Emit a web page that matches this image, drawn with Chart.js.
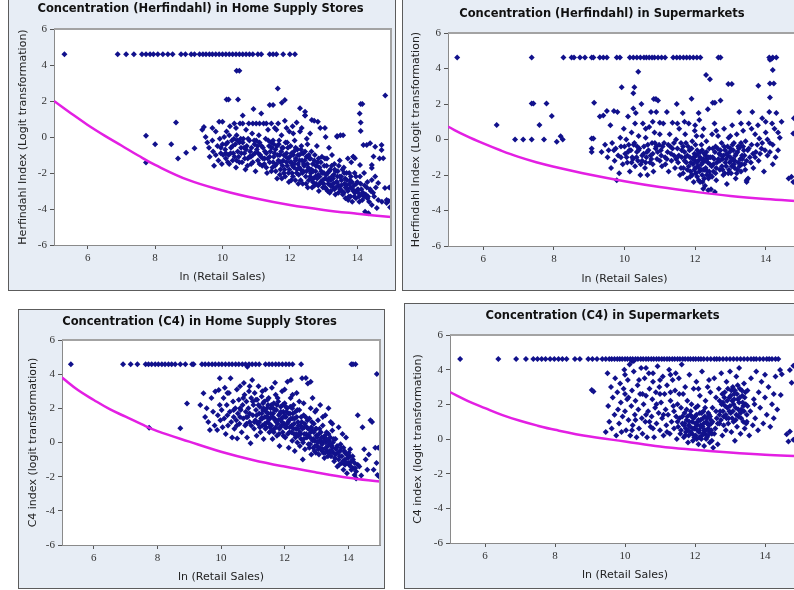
<!DOCTYPE html>
<html>
<head>
<meta charset="utf-8">
<script src="https://cdn.jsdelivr.net/npm/chart.js@4.4.1/dist/chart.umd.min.js"></script>
<style>
body { margin: 0; background: #fff; width: 794px; height: 590px; overflow: hidden; position: relative; }
.frame { position: absolute; border: 1px solid #5c5c5c; background: #e7edf5; box-sizing: border-box; }
.frame canvas { display: block; }
</style>
</head>
<body>
<div class="frame" id="f1"><canvas id="c1"></canvas></div>
<div class="frame" id="f2"><canvas id="c2"></canvas></div>
<div class="frame" id="f3"><canvas id="c3"></canvas></div>
<div class="frame" id="f4"><canvas id="c4"></canvas></div>
<script>
// ---- data ----
const xTicks = [6, 8, 10, 12, 14];
const curveX = [5, 5.5, 6, 6.5, 7, 7.5, 8, 9, 10, 11, 12, 13, 14, 15];

// Herfindahl, home supply stores
const hsHerfCapY = 4.6;
const hsHerfCapX = [5.31,6.89,7.14,7.37,7.61,7.73,7.85,7.95,8.08,8.23,8.38,8.52,8.77,8.9,9.07,9.17,9.32,9.42,9.51,9.61,9.7,9.8,9.9,10.0,10.1,10.2,10.3,10.4,10.5,10.6,10.7,10.8,10.9,11.05,11.15,11.4,11.5,11.6,11.8,12.0,12.15];
const hsHerfCurve = [2.0,1.32,0.67,0.08,-0.47,-1.03,-1.55,-2.4,-2.97,-3.42,-3.78,-4.05,-4.26,-4.45];
const hsHerfPts = [
[10.42,3.68],[10.5,3.68],[11.64,2.7],[10.12,2.09],[10.18,2.09],[10.46,2.09],[11.85,2.06],[14.83,2.3],[14.1,1.83],[14.15,1.83],[14.07,1.3],[14.1,0.8],[14.1,0.33],
[7.73,0.07],[8.0,-0.4],[8.48,-0.4],[8.62,0.8],[8.68,-1.2],[8.92,-0.87],[9.17,-0.63],[7.73,-1.41],
[11.4,1.78],[11.5,1.78],[11.76,1.9],[12.3,1.6],[12.45,1.4],[12.45,1.2],[12.65,0.94],[12.83,0.85],[13.04,0.5],[13.4,0.02],[13.5,0.1],
[14.18,-0.44],[14.28,-0.44],[14.38,-0.35],[14.53,-0.54],[14.72,-0.44],[14.72,-0.72],[14.77,-1.18],[14.48,-1.09],[14.43,-1.56],[14.43,-1.72],[14.08,-1.56],[13.88,-1.1],[13.93,-1.18],
[14.62,-2.56],[14.82,-2.83],[14.87,-3.5],[14.87,-3.67],[14.23,-4.15],[14.33,-4.24],[14.43,-2.39],[14.53,-2.2],[14.0,-2.94],[14.17,-3.1],[14.32,-3.3],[14.47,-3.1],[14.62,-3.5],[14.73,-3.6],[14.43,-3.78],[14.58,-3.95],
[14.95,-2.8],[14.93,-3.55],[14.97,-3.9],[14.66,-1.2],
[9.4,0.4],[9.45,0.55],[9.5,0],[9.55,-0.3],[9.6,-0.6],[9.62,-1.1],[9.7,-0.2],[9.72,-0.8],[9.75,-1.6],[9.8,0.3],[9.85,-0.5],[9.88,-1.3],[9.9,0.85],[9.92,-0.1],[9.95,-0.9],[9.98,-1.5],[10.0,0.85],[10.0,-0.4],
[10.05,0],[10.08,-0.7],[10.1,-1.2],[10.12,0.3],[10.15,-0.3],[10.18,-1.0],[10.2,-1.5],[10.22,0.6],[10.25,-0.6],[10.28,-0.2],[10.3,-1.3],[10.32,-0.9],[10.35,0.75],[10.38,-0.4],[10.4,-1.7],[10.42,0.1],[10.45,-0.8],[10.48,-1.1],[10.5,-0.3],[10.52,0.75],
[10.55,-0.6],[10.58,-1.4],[10.6,1.2],[10.62,-0.1],[10.65,-0.9],[10.68,-1.8],[10.7,0.4],[10.72,-0.5],[10.75,-1.2],[10.78,0.75],[10.8,-0.2],[10.82,-0.8],[10.85,-1.5],[10.88,0.2],[10.9,-1.0],[10.92,1.55],[10.95,-0.4],[10.98,-1.9],
[11.0,0.75],[11.02,-0.7],[11.05,-1.3],[11.08,0.1],[11.1,-0.3],[11.12,-1.0],[11.15,1.3],[11.18,-1.6],[11.2,-0.6],[11.22,0.75],[11.25,-1.2],[11.28,-0.1],[11.3,-0.9],[11.32,-2.0],[11.35,0.4],[11.38,-0.5],[11.4,-1.4],[11.42,-0.8],[11.45,0.75],[11.48,-1.7],
[11.5,-0.2],[11.52,-1.1],[11.55,0.5],[11.57,-0.7],[11.6,-1.5],[11.62,-2.3],[11.65,0.75],[11.67,-0.4],[11.7,-1.0],[11.72,-1.8],[11.75,0.1],[11.77,-0.6],[11.8,-1.3],[11.82,-2.0],[11.85,0.9],[11.87,-0.3],[11.9,-0.9],[11.92,-1.6],[11.95,-1.2],[11.97,-2.5],[11.98,0.3],
[12.02,-0.5],[12.04,-1.4],[12.06,-2.0],[12.08,0.6],[12.1,-1.0],[12.12,-1.7],[12.14,-0.2],[12.16,-2.4],[12.18,-1.2],[12.2,0.8],[12.22,-0.7],[12.24,-1.5],[12.26,-2.1],[12.28,-1.0],[12.3,0.3],[12.32,-1.8],[12.34,-0.5],[12.36,-1.3],[12.38,-2.6],[12.4,-0.9],[12.42,-1.6],[12.45,1.2],[12.47,-2.2],[12.49,-1.1],
[12.52,-0.4],[12.54,-1.7],[12.56,-2.4],[12.58,-1.2],[12.6,0.2],[12.62,-2.0],[12.64,-0.8],[12.66,-2.8],[12.68,-1.5],[12.7,-2.3],[12.72,0.9],[12.74,-1.0],[12.76,-1.9],[12.78,-2.6],[12.8,-0.5],[12.82,-1.4],[12.84,-2.1],[12.86,-3.0],[12.88,-1.7],[12.9,0.5],[12.92,-2.5],[12.95,-1.1],[12.98,-2.8],
[13.02,-1.6],[13.04,-2.3],[13.06,0],[13.08,-2.9],[13.1,-1.2],[13.12,-2.0],[13.14,-2.6],[13.16,-0.6],[13.18,-3.1],[13.2,-1.8],[13.22,-2.4],[13.25,-1.0],[13.28,-2.8],[13.3,-2.1],[13.32,-1.5],[13.35,-3.2],[13.38,-2.5],[13.4,0.05],[13.42,-1.9],[13.45,-2.7],[13.48,-1.3],
[13.52,-2.2],[13.55,-3.0],[13.58,0.1],[13.6,-1.7],[13.62,-2.6],[13.65,-3.4],[13.68,-2.0],[13.7,-2.9],[13.72,-1.2],[13.75,-3.3],[13.78,-2.4],[13.8,-2.8],[13.82,-1.4],[13.85,-3.6],[13.88,-1.1],[13.9,-2.7],[13.93,-3.1],[13.96,-2.2],
[14.02,-2.9],[14.05,-3.3],[14.1,-2.6],[14.15,-3.5],[14.2,-2.0],[14.25,-3.2],[14.3,-2.5]
];
const hsHerfCore = [
[10.3,-0.5],[10.36,-1.1],[10.44,-0.2],[10.5,-1.4],[10.56,-0.9],[10.6,-0.3],[10.66,-1.2],[10.7,-0.7],[10.76,-0.1],[10.8,-1.1],[10.86,-0.6],[10.9,-1.4],[10.96,-0.9],[11.0,-0.2],[11.06,-0.9],[11.1,-1.5],[11.16,-0.5],[11.2,-1.2],[11.26,-0.8],[11.3,-1.7],
[11.36,-0.2],[11.4,-1.1],[11.46,-0.6],[11.5,-1.4],[11.54,-0.9],[11.58,-1.9],[11.62,-0.5],[11.66,-1.3],[11.7,-2.1],[11.74,-0.8],[11.78,-1.6],[11.82,-1.0],[11.86,-2.2],[11.9,-1.4],[11.94,-0.6],[11.98,-1.8],[12.0,-1.1],[12.04,-2.4],[12.08,-1.6],[12.12,-0.8],
[12.16,-1.3],[12.2,-2.0],[12.24,-1.0],[12.28,-1.7],[12.32,-2.4],[12.36,-0.9],[12.4,-1.9],[12.44,-1.3],[12.48,-2.6],[12.52,-1.5],[12.56,-1.0],[12.6,-2.2],[12.64,-1.8],[12.68,-2.5],[12.72,-1.3],[12.76,-2.2],[12.8,-1.6],[12.84,-2.7],[12.88,-2.2],[12.92,-1.4],
[12.96,-2.0],[13.0,-2.6],[13.04,-1.2],[13.08,-2.1],[13.12,-3.0],[13.16,-2.3],[13.2,-2.7],[13.24,-1.6],[13.28,-2.3],[13.32,-2.9],[13.36,-1.9],[13.4,-2.5],[13.44,-3.1],[13.48,-2.2],[13.52,-2.7],[13.56,-1.8],[13.6,-3.1],[13.64,-2.3],[13.68,-2.7],[13.72,-3.0],
[13.76,-2.0],[13.8,-3.3],[13.84,-2.5],[13.88,-3.0],[13.92,-2.0],[13.96,-3.4],[14.0,-2.5],[14.06,-3.6],[14.12,-2.9],[14.2,-3.3],[14.28,-2.8],[14.35,-3.6],[14.4,-3.0],[14.5,-3.3],[14.55,-2.8],
[10.6,0.75],[10.9,0.75],[11.1,0.75],[11.3,0.75],[11.6,0.4],[11.9,0.5],[12.1,0.2],[12.5,-0.1],[12.35,0.5],[10.4,0.5],[10.2,0.1],[9.7,0.5],[9.8,-1.0],[10.1,-0.9],[9.95,-0.6],
[11.45,-1.9],[11.52,-0.4],[11.56,-1.6],[11.64,-1.0],[11.68,-0.2],[11.72,-1.4],[11.76,-2.3],[11.8,-0.6],[11.84,-1.8],[11.88,-1.1],[11.92,-0.3],[11.96,-2.0],[12.01,-1.4],[12.05,-0.9],[12.09,-2.2],[12.13,-1.5],[12.17,-0.6],[12.21,-1.8],[12.25,-2.6],[12.29,-1.3],
[12.33,-0.7],[12.37,-2.0],[12.41,-1.5],[12.45,-0.8],[12.49,-1.9],[12.53,-2.8],[12.57,-1.8],[12.61,-1.2],[12.65,-2.3],[12.69,-1.9],[12.73,-2.7],[12.77,-1.6],[12.81,-2.3],[12.85,-1.2],[12.89,-2.6],[12.93,-1.9],[12.97,-2.4],[13.01,-2.0],[13.05,-2.8],[13.09,-1.6],
[13.13,-2.4],[13.17,-1.9],[13.21,-3.0],[13.25,-2.2],[13.29,-2.6],[13.33,-1.8],[13.37,-2.8],[13.41,-2.2],[13.45,-1.6],[13.49,-2.9],[13.53,-2.4],[13.57,-3.2],[13.61,-2.0],[13.65,-2.8],[13.69,-2.4],[13.73,-3.5],[13.77,-2.6],[13.81,-2.2],[13.86,-2.9],[13.91,-3.3],
[13.97,-2.6],[14.03,-3.1],[14.08,-2.2],[14.14,-3.2],[14.22,-2.7],[14.3,-3.4],[14.38,-2.9],
[10.02,-1.0],[10.1,-0.4],[10.16,-1.4],[10.24,-0.9],[10.34,-0.1],[10.42,-1.3],[10.54,-0.1],[10.64,-0.6],[10.74,-1.6],[10.84,-1.1],[10.94,-0.2],[11.04,-0.5],[11.14,-1.1],[11.24,-1.5],[11.34,-1.2],[11.44,-0.3]
];

// Herfindahl, supermarkets
const smHerfCapY = 4.62;
const smHerfCapX = [5.26,7.37,8.27,8.5,8.57,8.74,8.88,9.07,9.12,9.3,9.4,9.5,9.78,9.87,10.15,10.25,10.35,10.45,10.55,10.62,10.7,10.78,10.85,10.95,11.05,11.15,11.38,11.48,11.57,11.67,11.76,11.85,11.95,12.05,12.15,12.66,12.72,14.1,14.2,14.3];
const smHerfCurve = [0.72,0.22,-0.22,-0.62,-0.98,-1.28,-1.53,-1.97,-2.35,-2.68,-2.95,-3.18,-3.35,-3.48];
const smHerfPts = [
[7.37,2.03],[7.42,2.03],[7.37,0],[6.9,0],[7.13,0],[7.72,0],[6.38,0.81],[7.59,0.81],[7.79,2.03],[7.94,1.32],[8.08,-0.13],[8.19,0.19],[8.25,0],
[9.14,2.07],[9.07,0.06],[9.12,0.06],[9.07,-0.5],[9.07,-0.7],[9.92,2.94],[10.28,2.94],[10.39,3.82],[10.25,2.6],[10.83,2.28],[10.89,2.28],
[12.31,3.63],[12.42,3.39],[12.94,3.13],[13.04,3.13],[13.79,3.03],[14.2,3.92],[14.12,3.16],[14.23,3.16],[14.12,2.37],[12.5,2.07],[12.56,2.07],
[14.73,-2.1],[14.65,-2.2],[14.78,-2.4],[14.78,0.34],[14.8,1.2],[9.78,-2.3],[14.12,4.5],[14.17,4.55],[13.46,-2.4],[13.5,-2.2],[12.23,-2.77],[12.37,-2.86],[12.56,-2.96],
[9.3,1.3],[9.35,-0.7],[9.4,1.35],[9.45,-0.3],[9.5,1.6],[9.52,-1.0],[9.55,-0.6],[9.6,0.8],[9.62,-1.6],[9.65,-0.2],[9.7,1.6],[9.72,-1.2],[9.75,-0.5],[9.8,1.55],[9.82,-0.9],[9.85,-1.9],[9.88,0.1],[9.9,-0.4],[9.95,-1.4],[9.98,0.6],
[10.02,-0.8],[10.05,0],[10.08,-1.3],[10.1,1.3],[10.12,-0.3],[10.15,-1.8],[10.18,-0.6],[10.2,0.4],[10.22,-1.0],[10.25,1.75],[10.28,-0.2],[10.3,-1.5],[10.32,1.5],[10.35,-0.7],[10.38,-1.2],[10.4,0.2],[10.42,-0.5],[10.45,-2.0],[10.48,2.0],[10.5,-0.9],
[10.52,0.9],[10.55,-0.4],[10.58,-1.6],[10.6,0.1],[10.62,-1.0],[10.65,-2.0],[10.68,-0.6],[10.7,0.7],[10.72,-1.3],[10.75,1.55],[10.78,-0.2],[10.8,-0.8],[10.82,-1.8],[10.85,0.4],[10.88,-0.5],[10.9,1.55],[10.92,-1.1],[10.95,2.2],[10.98,-0.3],
[11.0,0.95],[11.03,-0.6],[11.06,-1.5],[11.1,0.9],[11.12,-0.2],[11.15,-1.0],[11.2,1.55],[11.22,-0.7],[11.25,-1.8],[11.28,0.3],[11.3,-0.4],[11.33,-1.2],[11.36,0.95],[11.4,-0.9],[11.43,-1.6],[11.46,0],[11.48,2.0],
[11.5,-0.5],[11.52,-1.3],[11.55,0.6],[11.57,-2.0],[11.6,-0.2],[11.62,-1.0],[11.65,1.5],[11.67,-1.6],[11.7,-0.7],[11.72,0.3],[11.75,-1.3],[11.77,-2.2],[11.8,-0.4],[11.82,0.9],[11.85,-1.0],[11.87,-1.8],[11.9,2.3],[11.92,-0.1],[11.94,-1.4],[11.96,-2.4],[11.98,-0.8],[11.99,0.5],
[12.0,-1.2],[12.02,-1.9],[12.04,0.2],[12.06,-0.6],[12.08,-1.5],[12.1,-2.3],[12.12,1.1],[12.14,-1.0],[12.16,-1.7],[12.18,-0.3],[12.2,-2.0],[12.22,-1.3],[12.24,0.6],[12.26,-0.8],[12.28,-2.6],[12.3,-1.6],[12.32,-0.1],[12.34,-1.1],[12.36,1.7],[12.38,-2.2],[12.4,-0.5],[12.42,-1.4],[12.45,-2.8],[12.48,0.3],
[12.5,-1.0],[12.52,-1.8],[12.55,0.9],[12.58,-0.4],[12.6,-2.3],[12.62,-1.3],[12.65,0.2],[12.68,-0.8],[12.7,-1.7],[12.72,2.2],[12.75,-0.2],[12.78,-1.1],[12.8,-2.0],[12.82,0.6],[12.85,-0.6],[12.88,-1.5],[12.9,-2.5],[12.92,-0.9],[12.95,0.1],[12.98,-1.3],
[13.0,-0.5],[13.02,-1.9],[13.05,0.8],[13.08,-1.1],[13.1,-0.2],[13.12,-1.6],[13.15,-2.2],[13.18,0.3],[13.2,-0.7],[13.22,-1.3],[13.25,1.55],[13.28,-0.4],[13.3,-1.8],[13.33,-0.9],[13.36,0.5],[13.4,-1.4],[13.43,-0.1],[13.46,-2.3],[13.49,-0.6],
[13.52,0.9],[13.55,-1.0],[13.6,-0.3],[13.62,1.55],[13.65,-1.6],[13.7,0.3],[13.72,-0.7],[13.78,0.8],[13.8,-1.2],[13.82,0.05],[13.88,-0.5],[13.9,1.2],[13.95,-1.8],[14.0,0.4],[14.05,-0.9],[14.1,1.55],[14.12,-0.2],[14.18,0.9],[14.2,-1.4],[14.25,0.6],[14.3,1.5],[14.35,-0.6],[14.4,0.1],[14.45,1.0]
];
const smHerfCore = [
[10.0,-0.4],[10.06,-1.0],[10.14,-0.6],[10.2,-1.3],[10.26,-0.3],[10.34,-1.0],[10.4,-0.6],[10.46,-1.4],[10.54,-0.8],[10.6,-1.3],[10.66,-0.3],[10.74,-0.9],[10.8,-1.4],[10.86,-0.2],[10.94,-0.7],[11.0,-1.2],[11.08,-0.4],[11.16,-1.4],[11.24,-0.3],[11.32,-0.8],
[11.4,-0.2],[11.46,-1.1],[11.54,-0.9],[11.6,-1.6],[11.66,-0.4],[11.72,-1.0],[11.78,-1.7],[11.84,-0.6],[11.88,-1.3],[11.92,-2.0],[11.96,-1.0],[12.0,-1.6],[12.03,-0.9],[12.06,-2.1],[12.09,-1.2],[12.12,-1.8],[12.15,-0.7],[12.18,-1.4],[12.21,-2.4],[12.24,-1.1],
[12.27,-1.7],[12.3,-0.9],[12.33,-2.0],[12.36,-1.3],[12.4,-1.8],[12.44,-1.0],[12.48,-2.1],[12.52,-1.4],[12.56,-0.7],[12.6,-1.6],[12.66,-1.1],[12.72,-0.6],[12.76,-1.5],[12.8,-0.9],[12.84,-1.9],[12.88,-1.1],[12.92,-0.4],[12.96,-1.7],[13.0,-1.0],[13.04,-1.5],
[13.08,-0.6],[13.12,-1.2],[13.16,-0.8],[13.2,-1.7],[13.24,-0.5],[13.28,-1.1],[13.32,-1.4],[13.36,-0.4],[13.4,-0.9],[13.46,-1.2],[13.52,-0.5],[13.58,-1.3],[13.64,-0.8],[13.7,-1.0],[13.76,-0.3],[13.84,-0.8],[13.9,-0.2],[13.98,-0.6],[14.05,0.0],[14.12,-0.7],
[14.2,-0.3],[14.28,-1.0],[14.35,0.4],
[10.3,0.9],[10.6,0.6],[11.0,0.3],[11.5,0.9],[12.0,0.8],[12.2,0.2],[12.6,0.5],[13.0,0.2],[13.3,0.9],[13.6,0.6],[14.0,1.0],[12.1,1.5],[11.7,1.0],[10.8,1.0],
[11.62,-0.6],[11.66,-1.9],[11.7,-1.2],[11.74,-0.2],[11.78,-0.9],[11.82,-1.5],[11.86,-2.1],[11.9,-0.5],[11.94,-1.1],[11.98,-1.7],[12.01,-0.3],[12.05,-1.3],[12.08,-0.8],[12.11,-1.6],[12.14,-2.4],[12.17,-1.1],[12.2,-0.6],[12.23,-1.7],[12.26,-2.2],[12.29,-1.2],
[12.32,-0.7],[12.35,-1.8],[12.39,-1.0],[12.43,-2.0],[12.47,-1.5],[12.5,-0.5],[12.54,-1.1],[12.58,-1.9],[12.64,-0.5],[12.7,-1.2],[12.74,-0.9],[12.78,-1.7],[12.82,-0.4],[12.86,-1.3],[12.9,-0.8],[12.94,-1.9],[12.98,-0.7],[13.02,-1.2],[13.06,-0.3],[13.1,-1.4],
[13.14,-0.9],[13.18,-1.9],[13.22,-0.4],[13.26,-1.5],[13.3,-0.2],[13.34,-1.1],[13.38,-0.6],[13.42,-1.7],[10.1,-0.7],[10.24,-1.1],[10.36,-0.4],[10.5,-1.2],[10.64,-0.7],[10.76,-1.1],[10.9,-0.4],[11.04,-0.9],[11.2,-1.1],[11.36,-0.5],[11.5,-1.0],[9.7,-0.6],[9.9,-1.0]
];

// C4, home supply stores
const hsC4CapY = 4.58;
const hsC4CapX = [5.28,6.92,7.16,7.37,7.63,7.72,7.82,7.93,8.03,8.14,8.24,8.35,8.45,8.56,8.72,8.88,9.09,9.14,9.4,9.5,9.61,9.72,9.82,9.93,10.03,10.14,10.25,10.35,10.46,10.56,10.67,10.77,10.88,10.98,11.09,11.2,11.4,11.51,11.61,11.72,11.82,11.93,12.04,12.14,12.25,12.52,14.1,14.15,14.23];
const hsC4Curve = [3.8,3.07,2.49,1.95,1.51,1.07,0.67,0.05,-0.54,-1.02,-1.41,-1.75,-2.06,-2.29];
const hsC4Pts = [
[10.83,4.44],[8.93,2.29],[7.74,0.87],[8.72,0.83],[14.9,4.01],[9.96,3.76],[12.73,3.46],[12.82,3.56],
[9.35,2.19],[9.45,2.88],[9.5,1.5],[9.55,2.0],[9.6,1.2],[9.65,0.73],[9.7,2.6],[9.75,1.8],[9.8,1.0],[9.82,2.98],[9.88,0.73],[9.9,1.6],[9.93,3.07],[9.96,2.2],[9.98,1.3],
[10.02,1.9],[10.05,0.9],[10.08,2.6],[10.1,1.4],[10.12,3.2],[10.15,0.5],[10.18,2.2],[10.2,1.6],[10.22,1.0],[10.25,2.9],[10.28,1.8],[10.3,3.76],[10.32,1.2],[10.35,0.3],[10.38,2.4],[10.4,1.5],[10.42,0.8],[10.45,2.0],[10.48,1.3],[10.5,3.1],
[10.51,0.24],[10.53,1.7],[10.56,2.5],[10.58,1.1],[10.6,3.3],[10.62,1.9],[10.65,0.6],[10.68,2.2],[10.7,1.4],[10.72,3.48],[10.74,2.8],[10.76,1.0],[10.78,1.8],[10.8,2.4],[10.82,0.3],[10.84,1.5],[10.86,2.0],[10.88,3.0],[10.9,1.2],[10.93,-0.05],[10.95,2.6],[10.98,3.66],
[11.0,1.6],[11.02,2.2],[11.04,0.8],[11.06,2.9],[11.08,1.3],[11.1,1.9],[11.12,0.4],[11.14,2.5],[11.16,1.1],[11.18,3.3],[11.2,1.7],[11.22,2.1],[11.24,0.6],[11.26,1.4],[11.28,2.7],[11.3,1.0],[11.32,1.9],[11.34,0.2],[11.36,2.4],[11.38,1.5],[11.4,3.1],[11.42,0.9],[11.44,2.0],[11.46,1.2],[11.48,1.7],
[11.5,2.6],[11.52,0.6],[11.54,1.4],[11.56,2.0],[11.58,1.0],[11.6,3.2],[11.62,0.2],[11.64,1.7],[11.66,2.3],[11.68,0.8],[11.7,1.3],[11.72,2.8],[11.74,1.9],[11.76,0.4],[11.78,1.1],[11.8,2.4],[11.82,1.6],[11.84,-0.2],[11.86,0.9],[11.88,2.1],[11.9,1.4],[11.92,3.0],[11.94,0.6],[11.96,1.8],[11.98,1.1],
[12.0,2.3],[12.02,0.3],[12.04,1.5],[12.06,0.9],[12.08,2.0],[12.09,3.56],[12.11,1.2],[12.13,-0.3],[12.15,0.6],[12.17,1.7],[12.19,2.6],[12.2,3.66],[12.22,1.0],[12.24,0.1],[12.26,1.4],[12.28,2.2],[12.3,0.5],[12.32,-0.5],[12.34,1.8],[12.36,0.8],[12.38,2.9],[12.4,0.0],[12.42,1.2],[12.44,0.4],[12.46,2.4],[12.48,-0.2],
[12.5,1.0],[12.52,0.2],[12.55,3.76],[12.57,-1.0],[12.6,1.6],[12.62,0.5],[12.64,-0.4],[12.67,3.77],[12.7,0.9],[12.75,-0.1],[12.78,1.4],[12.8,0.3],[12.82,2.0],[12.84,-0.7],[12.86,0.7],[12.88,2.6],[12.9,-0.3],[12.92,1.1],[12.94,0.1],[12.96,1.8],[12.98,-0.6],
[13.0,0.4],[13.02,-0.2],[13.05,1.3],[13.08,-0.7],[13.1,0.8],[13.12,2.2],[13.15,0.0],[13.18,-0.5],[13.2,1.0],[13.22,0.3],[13.25,-0.9],[13.28,1.6],[13.3,-0.3],[13.32,0.6],[13.36,-0.8],[13.38,2.0],[13.4,0.1],[13.42,-0.5],[13.45,1.2],[13.48,-0.2],
[13.5,0.7],[13.53,-0.6],[13.56,-1.1],[13.6,0.2],[13.63,-0.3],[13.66,-1.4],[13.7,0.9],[13.73,-0.8],[13.76,-0.1],[13.8,-1.2],[13.82,0.5],[13.85,-1.6],[13.88,-0.5],[13.9,-1.0],[13.93,0.3],[13.96,-1.8],[14.0,-0.9],[14.03,-1.3],[14.06,-0.4],[14.1,-1.6],[14.15,-1.0],[14.2,-1.9],
[14.25,-2.1],[14.3,1.6],[14.35,-1.4],[14.41,-1.93],[14.45,0.9],[14.5,-0.4],[14.55,-1.0],[14.6,-1.6],[14.65,-0.7],[14.7,1.3],[14.75,1.2],[14.8,-1.6],[14.85,-0.3],[14.89,-1.2],[14.92,-1.9],[14.95,-0.3],[14.98,-2.0]
];
const hsC4Core = [
[10.4,1.9],[10.5,1.0],[10.6,1.5],[10.7,2.6],[10.8,1.1],[10.9,1.7],[11.0,2.4],[11.05,1.2],[11.12,1.6],[11.18,2.2],[11.22,0.9],[11.28,1.7],[11.32,2.3],[11.38,1.1],[11.42,1.8],[11.46,2.5],[11.5,1.4],[11.54,0.9],[11.58,2.2],[11.62,1.5],
[11.66,0.6],[11.7,1.9],[11.74,1.2],[11.78,2.6],[11.82,0.5],[11.86,1.7],[11.9,1.0],[11.94,2.2],[11.98,1.5],[12.02,0.9],[12.06,1.8],[12.1,0.5],[12.14,1.3],[12.18,2.1],[12.22,0.6],[12.26,1.7],[12.3,1.1],[12.34,0.3],[12.38,1.5],[12.42,0.8],
[12.46,1.9],[12.5,0.5],[12.54,1.2],[12.58,0.0],[12.62,0.9],[12.66,1.5],[12.7,0.3],[12.74,0.8],[12.78,-0.3],[12.82,0.6],[12.86,1.2],[12.9,0.2],[12.94,-0.5],[12.98,0.8],[13.02,0.3],[13.06,-0.4],[13.1,0.1],[13.14,0.6],[13.18,-0.1],[13.22,-0.6],
[13.26,0.4],[13.3,0.0],[13.34,-0.5],[13.38,0.5],[13.42,-0.1],[13.46,-0.8],[13.5,-0.3],[13.55,0.2],[13.6,-0.7],[13.65,-0.2],[13.7,-1.0],[13.75,-0.5],[13.8,-0.8],[13.85,-0.3],[13.9,-1.3],[13.95,-0.7],[14.0,-1.2],[14.05,-0.8],[14.1,-1.1],[14.15,-1.5],
[14.2,-1.2],[14.25,-1.7],[14.3,-1.3],
[10.2,2.9],[10.9,3.3],[11.3,3.0],[11.7,3.5],[12.0,3.1],[12.25,2.8],[12.6,2.3],[13.0,1.9],[13.2,1.5],[13.5,1.1],
[11.3,1.4],[11.34,2.0],[11.4,0.8],[11.44,1.5],[11.48,2.2],[11.52,1.1],[11.56,1.7],[11.6,0.7],[11.64,2.0],[11.68,1.4],[11.72,0.9],[11.76,2.2],[11.8,1.3],[11.84,0.8],[11.88,1.8],[11.92,1.2],[11.96,0.4],[12.0,1.6],[12.04,2.1],[12.08,1.1],
[12.12,1.7],[12.16,0.9],[12.2,1.4],[12.24,2.0],[12.28,0.8],[12.32,1.4],[12.36,0.5],[12.4,1.9],[12.44,1.0],[12.48,0.6],[12.52,1.5],[12.56,0.8],[12.6,0.2],[12.64,1.1],[12.68,0.5],[12.72,1.3],[12.76,0.4],[12.8,-0.1],[12.84,0.9],[12.88,0.1],
[12.92,0.6],[12.96,-0.2],[13.0,0.8],[13.04,0.0],[13.08,0.5],[13.12,-0.3],[13.16,0.3],[13.2,-0.4],[13.24,0.1],[13.28,-0.6],[13.32,0.2],[13.36,-0.2],[13.4,-0.6],[13.44,0.3],[13.48,-0.5],[13.52,0.0],[13.58,-0.9],[13.62,-0.4],[13.68,-0.6],[13.72,-1.3],
[13.78,-0.3],[13.84,-1.1],[13.9,-0.6],[13.96,-1.2],[14.02,-0.6],[14.08,-1.4],[14.14,-0.8],[14.22,-1.5],[10.6,2.0],[10.8,1.5],[10.95,1.0],[11.1,2.5],[11.2,1.2]
];

// C4, supermarkets
const smC4CapY = 4.62;
const smC4CapX = [5.29,6.38,6.89,7.17,7.38,7.5,7.62,7.73,7.86,7.98,8.1,8.21,8.33,8.57,8.71,8.95,9.07,9.2,9.35,9.45,9.55,9.62,9.7,9.78,9.85,9.92,10.0,10.07,10.15,10.22,10.3,10.37,10.45,10.52,10.6,10.67,10.75,10.82,10.9,10.97,11.05,11.12,11.2,11.27,11.35,11.42,11.5,11.57,11.65,11.72,11.8,11.87,11.95,12.02,12.1,12.17,12.25,12.35,12.45,12.55,12.62,12.7,12.8,12.9,13.0,13.1,13.2,13.3,13.4,13.5,13.6,13.68,13.75,13.85,13.95,14.05,14.12,14.2,14.3,14.38];
const smC4Curve = [2.7,2.2,1.78,1.38,1.05,0.77,0.53,0.14,-0.14,-0.43,-0.62,-0.78,-0.91,-1.0];
const smC4Pts = [
[10.2,4.48],[10.25,4.5],[14.43,3.98],[14.48,3.73],[14.45,2.54],[14.62,0.28],[14.67,-0.14],[14.71,0.43],[14.81,-0.05],[14.81,4.23],[14.71,3.98],[14.76,3.25],[9.05,2.83],[9.1,2.74],
[9.45,0.4],[9.5,3.8],[9.52,1.9],[9.55,1.0],[9.6,3.0],[9.62,0.6],[9.65,2.4],[9.7,1.4],[9.72,3.5],[9.75,0.2],[9.78,2.7],[9.8,1.7],[9.83,0.9],[9.86,3.2],[9.88,2.1],[9.9,0.4],[9.93,1.3],[9.96,2.9],[9.98,4.0],
[10.0,1.6],[10.03,0.5],[10.06,2.3],[10.08,3.4],[10.1,1.1],[10.13,4.3],[10.15,0.2],[10.18,1.9],[10.2,2.8],[10.22,0.8],[10.25,3.9],[10.28,1.4],[10.3,2.2],[10.33,0.1],[10.36,3.1],[10.38,1.7],[10.4,0.6],[10.43,2.6],[10.46,4.1],[10.48,1.2],
[10.5,0.3],[10.53,2.0],[10.56,3.5],[10.58,1.0],[10.6,2.5],[10.63,0.1],[10.66,1.6],[10.68,3.8],[10.7,2.9],[10.73,0.7],[10.76,1.3],[10.78,2.3],[10.8,3.3],[10.83,0.1],[10.86,1.8],[10.88,2.7],[10.9,0.9],[10.93,4.2],[10.96,1.5],[10.98,3.0],
[11.0,0.5],[11.03,2.1],[11.06,1.2],[11.08,3.6],[11.1,0.2],[11.13,2.6],[11.16,1.7],[11.18,0.8],[11.2,3.1],[11.23,1.4],[11.26,4.0],[11.28,0.3],[11.3,2.2],[11.33,1.0],[11.36,3.4],[11.38,1.9],[11.4,0.6],[11.43,2.8],[11.46,1.3],[11.48,0.0],
[11.5,2.0],[11.52,0.7],[11.54,3.5],[11.56,1.2],[11.58,0.3],[11.6,1.8],[11.62,4.3],[11.64,0.9],[11.66,2.6],[11.68,0.1],[11.7,1.5],[11.72,3.0],[11.74,0.6],[11.76,1.1],[11.78,2.2],[11.8,-0.2],[11.82,0.8],[11.84,3.7],[11.86,1.4],[11.88,0.4],[11.9,2.0],[11.92,1.0],[11.94,-0.1],[11.96,2.9],[11.98,0.6],
[12.0,1.3],[12.02,0.2],[12.04,3.3],[12.06,0.8],[12.08,1.9],[12.1,-0.3],[12.12,0.5],[12.14,2.5],[12.16,1.1],[12.18,0.0],[12.2,3.9],[12.22,0.7],[12.24,1.6],[12.26,-0.4],[12.28,0.3],[12.3,2.2],[12.32,1.0],[12.34,0.1],[12.36,3.0],[12.38,0.6],[12.4,1.4],[12.42,-0.2],[12.44,2.7],[12.46,0.9],[12.48,0.3],
[12.5,1.8],[12.52,-0.5],[12.55,3.5],[12.58,0.6],[12.6,2.4],[12.62,1.2],[12.65,-0.3],[12.68,2.9],[12.7,0.9],[12.72,1.6],[12.75,3.8],[12.78,0.2],[12.8,2.1],[12.82,1.3],[12.85,2.7],[12.88,0.5],[12.9,3.3],[12.92,1.8],[12.95,0.9],[12.98,2.4],
[13.0,3.9],[13.02,1.5],[13.04,0.4],[13.06,2.2],[13.08,3.0],[13.1,1.0],[13.12,2.6],[13.14,-0.1],[13.16,1.8],[13.18,3.6],[13.2,0.7],[13.22,2.3],[13.24,1.3],[13.26,4.1],[13.28,2.9],[13.3,0.3],[13.32,1.7],[13.35,2.5],[13.38,1.0],[13.4,3.2],[13.42,0.6],[13.45,2.0],[13.48,1.4],
[13.5,2.8],[13.55,0.2],[13.58,1.6],[13.6,3.5],[13.65,0.8],[13.68,2.3],[13.72,1.2],[13.75,3.9],[13.8,0.5],[13.82,2.7],[13.86,1.8],[13.9,3.3],[13.95,0.9],[14.0,2.4],[14.05,1.4],[14.1,3.0],[14.15,0.7],[14.2,2.0],[14.25,1.2],[14.3,3.6],[14.35,1.7]
];
const smC4Core = [
[11.6,0.5],[11.64,1.3],[11.68,0.8],[11.72,0.2],[11.76,1.7],[11.8,0.5],[11.84,1.0],[11.88,1.6],[11.92,0.3],[11.96,1.2],[12.0,0.6],[12.02,1.8],[12.05,0.0],[12.08,1.0],[12.11,0.4],[12.14,1.5],[12.17,0.7],[12.2,0.2],[12.23,1.2],[12.26,0.5],
[12.29,1.8],[12.32,0.0],[12.35,0.9],[12.38,1.5],[12.41,0.4],[12.45,1.1],[12.48,-0.1],[12.6,1.6],[12.65,0.9],[12.7,2.2],[12.74,1.1],[12.78,2.6],[12.82,0.8],[12.86,1.9],[12.9,1.2],[12.94,2.9],[12.98,1.6],[13.02,2.5],[13.06,1.2],[13.1,2.0],
[13.14,2.8],[13.18,1.4],[13.22,3.1],[13.26,2.1],[13.3,1.5],[13.34,2.8],[13.38,1.9],[13.42,2.4],[13.46,0.9],[13.5,1.9],
[10.1,2.4],[10.3,1.1],[10.5,2.6],[10.7,1.0],[10.9,2.0],[11.1,1.4],[11.3,2.7],[11.5,1.0],[11.45,3.8],[11.0,3.4],[10.6,4.1],[12.1,2.9],[12.4,3.4],[13.7,2.0],[14.0,3.7],[14.25,2.6],
[11.7,0.9],[11.74,0.4],[11.78,1.3],[11.82,0.2],[11.86,0.7],[11.9,1.3],[11.94,0.6],[11.98,0.1],[12.01,0.9],[12.04,1.4],[12.07,0.5],[12.1,1.1],[12.13,0.1],[12.16,0.8],[12.19,1.5],[12.22,0.3],[12.25,0.9],[12.28,1.3],[12.31,0.5],[12.34,1.2],
[12.37,0.2],[12.4,0.8],[12.43,1.3],[12.46,0.5],[12.5,1.0],[12.55,0.3],[12.7,1.4],[12.76,2.0],[12.8,1.6],[12.84,2.4],[12.88,1.4],[12.92,2.2],[12.96,1.2],[13.0,1.9],[13.04,2.8],[13.08,1.6],[13.12,2.3],[13.16,1.1],[13.2,2.6],[13.24,1.7],
[13.28,2.4],[13.32,1.2],[13.36,2.1],[13.4,1.6],[13.44,2.7],[13.48,1.0],[10.0,2.6],[10.2,0.5],[10.4,3.4],[10.6,1.4],[10.8,0.6],[11.0,2.6],[11.2,0.4],[11.4,1.6],[11.55,2.6],[11.3,3.7],[10.8,3.8],[10.0,3.7]
];

// ---- drawing ----
const pointColor = '#11118c';
const curveColor = '#e31fe3';

const plotFrame = {
  id: 'plotFrame',
  beforeDraw(chart) {
    const a = chart.chartArea, c = chart.ctx;
    c.save();
    c.fillStyle = '#ffffff';
    c.fillRect(a.left, a.top, a.right - a.left, a.bottom - a.top);
    c.restore();
  },
  afterDraw(chart) {
    const a = chart.chartArea, c = chart.ctx;
    c.save();
    c.strokeStyle = '#a3a3a3';
    c.lineWidth = 2;
    c.beginPath();
    c.moveTo(a.left, a.top);
    c.lineTo(a.right, a.top);
    c.lineTo(a.right, a.bottom);
    c.stroke();
    c.restore();
  }
};

function makePanel(p) {
  const fr = document.getElementById(p.frameId);
  fr.style.left = p.frame[0] + 'px';
  fr.style.top = p.frame[1] + 'px';
  fr.style.width = p.frame[2] + 'px';
  fr.style.height = p.frame[3] + 'px';
  const cx = p.frame[0] + 1, cy = p.frame[1] + 1;
  const cw = p.frame[2] - 2, ch = p.frame[3] - 2;
  const canvas = document.getElementById(p.canvasId);
  canvas.width = cw; canvas.height = ch;
  canvas.style.width = cw + 'px'; canvas.style.height = ch + 'px';

  const TLH = 14, ALH = 13;
  const titlePadTop = (p.titleY - cy) - TLH / 2;
  const titlePadBottom = (p.plot.t - cy) - titlePadTop - TLH;
  const yAxisW = p.plot.l - cx;
  const xAxisH = (cy + ch) - p.plot.b;
  const padRight = (cx + cw) - p.plot.r;
  const marker = { pointStyle: 'rectRot', pointRadius: 3, backgroundColor: pointColor, borderWidth: 0 };

  new Chart(canvas, {
    type: 'scatter',
    data: {
      datasets: [
        {
          data: curveX.map((x, i) => ({ x: x, y: p.curve[i] })),
          showLine: true, pointRadius: 0, borderColor: curveColor, borderWidth: 2.5, tension: 0.4
        },
        Object.assign({ data: p.capX.map(x => ({ x: x, y: p.capY })) }, marker),
        Object.assign({ data: p.pts.map(d => ({ x: d[0], y: d[1] })) }, marker)
      ]
    },
    options: {
      responsive: false,
      animation: false,
      devicePixelRatio: 1,
      layout: { padding: { left: 0, top: 0, right: padRight, bottom: 0 } },
      plugins: {
        legend: { display: false },
        tooltip: { enabled: false },
        title: {
          display: true, text: p.title, color: '#111',
          font: { family: 'DejaVu Sans', weight: 'bold', size: 11.5, lineHeight: TLH / 11.5 },
          padding: { top: titlePadTop, bottom: titlePadBottom }
        }
      },
      scales: {
        x: {
          type: 'linear', min: 5, max: 15,
          afterBuildTicks: s => { s.ticks = xTicks.map(v => ({ value: v })); },
          afterFit: s => { s.height = xAxisH; },
          grid: { drawOnChartArea: false, drawTicks: true, tickLength: 4, color: '#555' },
          border: { color: '#8a8a8a', width: 1 },
          ticks: { color: '#333', padding: 3, font: { family: 'Liberation Serif', size: 11 } },
          title: {
            display: true, text: 'ln (Retail Sales)', color: '#222',
            font: { family: 'DejaVu Sans', size: 11, lineHeight: ALH / 11 },
            padding: { top: 0, bottom: (cy + ch - p.xTitleY) - ALH / 2 }
          }
        },
        y: {
          min: -6, max: 6,
          ticks: { stepSize: 2, color: '#333', padding: 3, font: { family: 'Liberation Serif', size: 11 } },
          afterFit: s => { s.width = yAxisW; },
          grid: { drawOnChartArea: false, drawTicks: true, tickLength: 4, color: '#555' },
          border: { color: '#8a8a8a', width: 1 },
          title: {
            display: true, text: p.yTitle, color: '#222',
            font: { family: 'DejaVu Sans', size: 11, lineHeight: ALH / 11 },
            padding: { top: (p.yTitleX - cx) - ALH / 2, bottom: 0 }
          }
        }
      }
    },
    plugins: [plotFrame]
  });
}

makePanel({
  frameId: 'f1', canvasId: 'c1', frame: [8, -6, 388, 297],
  plot: { l: 54, t: 29, r: 392, b: 245 }, titleY: 9, xTitleY: 277, yTitleX: 23,
  title: 'Concentration (Herfindahl) in Home Supply Stores',
  yTitle: 'Herfindahl Index (Logit transformation)',
  capX: hsHerfCapX, capY: hsHerfCapY, pts: hsHerfPts.concat(hsHerfCore), curve: hsHerfCurve
});
makePanel({
  frameId: 'f2', canvasId: 'c2', frame: [402, -6, 404, 297],
  plot: { l: 448, t: 33, r: 801, b: 246 }, titleY: 14, xTitleY: 279, yTitleX: 416,
  title: 'Concentration (Herfindahl) in Supermarkets',
  yTitle: 'Herfindahl Index (Logit transformation)',
  capX: smHerfCapX, capY: smHerfCapY, pts: smHerfPts.concat(smHerfCore), curve: smHerfCurve
});
makePanel({
  frameId: 'f3', canvasId: 'c3', frame: [18, 309, 367, 280],
  plot: { l: 62, t: 340, r: 380, b: 545 }, titleY: 322, xTitleY: 577, yTitleX: 33,
  title: 'Concentration (C4) in Home Supply Stores',
  yTitle: 'C4 index (logit transformation)',
  capX: hsC4CapX, capY: hsC4CapY, pts: hsC4Pts.concat(hsC4Core), curve: hsC4Curve
});
makePanel({
  frameId: 'f4', canvasId: 'c4', frame: [404, 303, 402, 286],
  plot: { l: 450, t: 335, r: 800, b: 543 }, titleY: 316, xTitleY: 575, yTitleX: 418,
  title: 'Concentration (C4) in Supermarkets',
  yTitle: 'C4 index (logit transformation)',
  capX: smC4CapX, capY: smC4CapY, pts: smC4Pts.concat(smC4Core), curve: smC4Curve
});
</script>
</body>
</html>
